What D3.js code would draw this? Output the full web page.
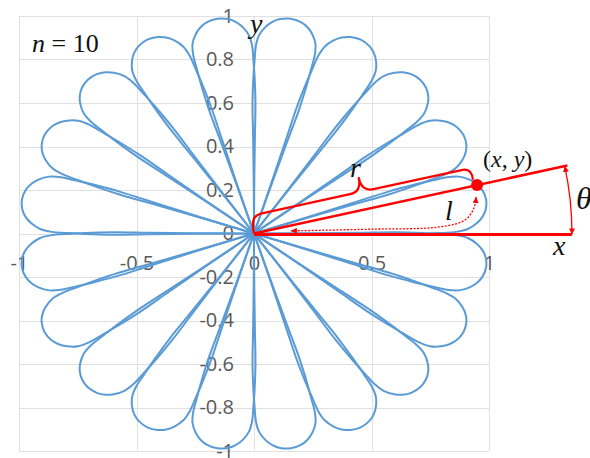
<!DOCTYPE html>
<html>
<head>
<meta charset="utf-8">
<script src="https://cdn.jsdelivr.net/npm/d3@7"></script>
<style>
  html, body { margin: 0; padding: 0; background: #ffffff; }
  svg { display: block; }
</style>
</head>
<body>
<svg id="chart" width="590" height="458"></svg>
<script>
// Rose curve with n = 10: twenty petals, each one traced from a radius / half-width profile.
const nValue = 10;
const petalCentersDeg = [9, 27, 45, 63, 81, 99, 117, 135, 153, 171,
                         189, 207, 225, 243, 261, 279, 297, 315, 333, 351];
const petalRadius    = [0, 0.25, 0.45, 0.60, 0.72, 0.80, 0.86, 0.91, 0.95, 0.975, 0.992, 1.0];
const petalHalfWidth = [9, 9.3,  9.5,  9.6,  9.2,  8.8,  8.5,  7.7,  6.1,  4.5,   2.6,   0];

// Axis ticks
const xTicks = [-1, -0.5, 0, 0.5, 1];
const xTickLabels = ["-1", "-0.5", "0", "0.5", "1"];
const yTicks = [-1, -0.8, -0.6, -0.4, -0.2, 0, 0.2, 0.4, 0.6, 0.8, 1];
const yTickLabels = ["-1", "-0.8", "-0.6", "-0.4", "-0.2", "0", "0.2", "0.4", "0.6", "0.8", "1"];

// Annotated point (x, y) on the first petal, in polar form
const pointThetaDeg = 13.2;
const pointR = 0.975;
const rayLength = 1.37;        // red ray through the point
const xArrowLength = 1.353;    // red line along the x axis
// Dotted arc-length arrow l, from near the origin along the petal edge up to the point
const arcLengthPath = [[0.157, 0.012], [0.50, 0.020], [0.787, 0.030], [0.898, 0.062], [0.936, 0.117], [0.945, 0.168]];

const svg = d3.select("#chart");
const x = d3.scaleLinear().domain([-1, 1]).range([19, 489]);
const y = d3.scaleLinear().domain([-1, 1]).range([451, 16]);

const blue = "#5b9bd5";
const red = "#ff0000";
const grid = "#e0e0e0";
const labelColor = "#595959";

// Gridlines
svg.append("g").selectAll("line").data(xTicks).join("line")
  .attr("x1", d => Math.round(x(d)) + 0.5).attr("x2", d => Math.round(x(d)) + 0.5)
  .attr("y1", y(1)).attr("y2", y(-1))
  .attr("stroke", grid).attr("stroke-width", 1);
svg.append("g").selectAll("line").data(yTicks).join("line")
  .attr("y1", d => Math.round(y(d)) + 0.5).attr("y2", d => Math.round(y(d)) + 0.5)
  .attr("x1", x(-1)).attr("x2", x(1))
  .attr("stroke", grid).attr("stroke-width", 1);

// Axes (labels only, Excel-style)
const yAxis = d3.axisLeft(y).tickValues(yTicks)
  .tickFormat((d, i) => yTickLabels[i]).tickSize(0).tickPadding(20);
const gy = svg.append("g").attr("transform", `translate(${x(0)},0)`).call(yAxis);
gy.select(".domain").remove();
gy.selectAll("text").attr("font-family", "'Open Sans', 'Liberation Sans', sans-serif")
  .attr("font-size", 20).attr("fill", labelColor);

const xAxis = d3.axisBottom(x).tickValues(xTicks)
  .tickFormat((d, i) => xTickLabels[i]).tickSize(0).tickPadding(22);
const gx = svg.append("g").attr("transform", `translate(0,${y(0)})`).call(xAxis);
gx.select(".domain").remove();
gx.selectAll("text").attr("font-family", "'Open Sans', 'Liberation Sans', sans-serif")
  .attr("font-size", 20).attr("fill", labelColor);

// Petals
const rad = Math.PI / 180;
function petalPoints(c) {
  const pts = [[0, 0]];
  for (let i = 1; i < petalRadius.length; i++) {
    const a = (c + petalHalfWidth[i]) * rad;
    pts.push([petalRadius[i] * Math.cos(a), petalRadius[i] * Math.sin(a)]);
  }
  for (let i = petalRadius.length - 2; i >= 1; i--) {
    const a = (c - petalHalfWidth[i]) * rad;
    pts.push([petalRadius[i] * Math.cos(a), petalRadius[i] * Math.sin(a)]);
  }
  pts.push([0, 0]);
  return pts;
}
const petalLine = d3.line()
  .x(d => x(d[0])).y(d => y(d[1]))
  .curve(d3.curveCatmullRom.alpha(0.5));
svg.append("g").selectAll("path").data(petalCentersDeg).join("path")
  .attr("d", c => petalLine(petalPoints(c)))
  .attr("fill", "none").attr("stroke", blue).attr("stroke-width", 2)
  .attr("stroke-linejoin", "round");

// Arrow markers
const defs = svg.append("defs");
function marker(id, len, wid) {
  defs.append("marker").attr("id", id)
    .attr("viewBox", `0 ${-wid} ${len} ${2 * wid}`)
    .attr("refX", len).attr("refY", 0)
    .attr("markerWidth", len).attr("markerHeight", 2 * wid)
    .attr("markerUnits", "userSpaceOnUse")
    .attr("orient", "auto-start-reverse")
    .append("path").attr("d", `M0,${-wid}L${len},0L0,${wid}Z`).attr("fill", red);
}
marker("arrowSmall", 6, 3);

const ann = svg.append("g");
const ox = x(0), oy = y(0);
const th = pointThetaDeg * rad;

// Red line along x
ann.append("line").attr("x1", ox).attr("y1", oy + 1).attr("x2", x(xArrowLength)).attr("y2", oy + 1)
  .attr("stroke", red).attr("stroke-width", 3);

// Red ray through the point
const rayEnd = [x(rayLength * Math.cos(th)), y(rayLength * Math.sin(th))];
ann.append("line").attr("x1", ox).attr("y1", oy).attr("x2", rayEnd[0]).attr("y2", rayEnd[1])
  .attr("stroke", red).attr("stroke-width", 2.5);

// theta arc between the x line and the ray
const R = x(xArrowLength) - ox;
const rayAng = Math.atan2(oy - rayEnd[1], rayEnd[0] - ox);
const arcStart = [ox + R, oy + 1];
const arcEnd = [ox + R * Math.cos(rayAng), oy - R * Math.sin(rayAng)];
ann.append("path")
  .attr("d", `M${arcStart[0]},${arcStart[1]}A${R},${R} 0 0 0 ${arcEnd[0]},${arcEnd[1]}`)
  .attr("fill", "none").attr("stroke", red).attr("stroke-width", 1.3)
  .attr("marker-start", "url(#arrowSmall)").attr("marker-end", "url(#arrowSmall)");

// Dotted arc-length arrow
const dotted = d3.line().x(d => x(d[0])).y(d => y(d[1])).curve(d3.curveCatmullRom.alpha(0.5));
ann.append("path").attr("d", dotted(arcLengthPath))
  .attr("fill", "none").attr("stroke", red).attr("stroke-width", 1.3)
  .attr("stroke-dasharray", "2 1.5")
  .attr("marker-start", "url(#arrowSmall)").attr("marker-end", "url(#arrowSmall)");

// Curly brace marking r
const P = [x(pointR * Math.cos(th)), y(pointR * Math.sin(th))];
(function brace() {
  const dx = P[0] - ox, dy = P[1] - oy;
  const L = Math.hypot(dx, dy);
  const t = [dx / L, dy / L];
  const nrm = [t[1], -t[0]];
  const h = 18, tip = 32, m = L / 2;
  const T = (u, v) => [ox + u * t[0] + v * nrm[0], oy + u * t[1] + v * nrm[1]].map(q => q.toFixed(2)).join(",");
  const d = `M${T(0, 0)}` +
    `C${T(0, h * 0.7)} ${T(3, h)} ${T(12, h)}` +
    `L${T(m - 12, h)}` +
    `Q${T(m, h)} ${T(m, tip)}` +
    `Q${T(m, h)} ${T(m + 12, h)}` +
    `L${T(L - 12, h)}` +
    `C${T(L - 3, h)} ${T(L - 2, h * 0.6)} ${T(L - 3, 6)}`;
  ann.append("path").attr("d", d).attr("fill", "none")
    .attr("stroke", red).attr("stroke-width", 2.3).attr("stroke-linejoin", "round");
})();

// The point
ann.append("circle").attr("cx", P[0]).attr("cy", P[1]).attr("r", 6).attr("fill", red);

// Math labels
const serif = "'Liberation Serif', 'Times New Roman', serif";
const nText = svg.append("text").attr("x", 32).attr("y", 52)
  .attr("font-family", serif).attr("font-size", 26).attr("fill", "#111");
nText.append("tspan").attr("font-style", "italic").text("n");
nText.append("tspan").attr("xml:space", "preserve").text(` = ${nValue}`);

function italicLabel(tx, ty, s, size) {
  svg.append("text").attr("x", tx).attr("y", ty)
    .attr("font-family", serif).attr("font-size", size).attr("font-style", "italic")
    .attr("fill", "#111").text(s);
}
italicLabel(250, 33, "y", 28);
italicLabel(553, 255, "x", 28);
italicLabel(350, 177, "r", 28);
italicLabel(445, 220, "l", 28);
italicLabel(576, 209, "θ", 32);

const pt = svg.append("text").attr("x", 483).attr("y", 167)
  .attr("font-family", serif).attr("font-size", 24).attr("fill", "#111");
pt.append("tspan").text("(");
pt.append("tspan").attr("font-style", "italic").text("x");
pt.append("tspan").text(", ");
pt.append("tspan").attr("font-style", "italic").text("y");
pt.append("tspan").text(")");
</script>
</body>
</html>
